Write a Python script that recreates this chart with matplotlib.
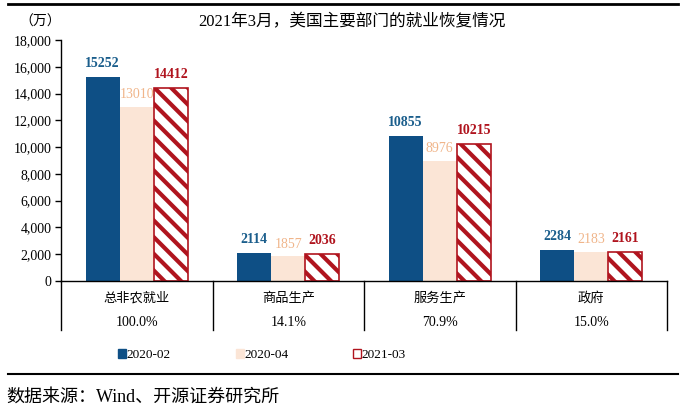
import numpy as np
import matplotlib
matplotlib.use("Agg")
import matplotlib.pyplot as plt
from matplotlib.patches import Patch

plt.rcParams['font.family'] = ['Liberation Serif', 'Noto Sans CJK SC', 'DejaVu Sans']
plt.rcParams['hatch.linewidth'] = 3.0

# data
categories = ['总非农就业', '商品生产', '服务生产', '政府']
shares     = ['100.0%', '14.1%', '70.9%', '15.0%']
series     = ['2020-02', '2020-04', '2021-03']
v_2020_02  = [15252, 2114, 10855, 2284]
v_2020_04  = [13010, 1857, 8976, 2183]
v_2021_03  = [14412, 2036, 10215, 2161]

blue = '#0E4F85'
pink = '#FBE5D6'
red = '#B0141E'

fig = plt.figure(figsize=(6.9, 4.18), dpi=100)
ax = fig.add_axes([61/690, 1-281/418, (667-61)/690, (281-40)/418])

x = np.arange(len(categories)) + 0.5
w = 0.225
ax.bar(x - w, v_2020_02, w, color=blue, linewidth=0)
ax.bar(x, v_2020_04, w, color=pink, linewidth=0)
ax.bar(x + w, v_2021_03, w, color='white', edgecolor=red, hatch='\\\\', linewidth=1.2)

# value labels
for xi, v in zip(x - w, v_2020_02):
    ax.annotate(str(v), (xi, v), xytext=(0, 5), textcoords='offset points',
                ha='center', va='bottom', fontsize=10, fontweight='bold', color='#1B5E8C')
for xi, v in zip(x, v_2020_04):
    ax.annotate(str(v), (xi, v), xytext=(0, 4), textcoords='offset points',
                ha='center', va='bottom', fontsize=10, color='#F0B58A')
for xi, v in zip(x + w, v_2021_03):
    ax.annotate(str(v), (xi, v), xytext=(0, 5), textcoords='offset points',
                ha='center', va='bottom', fontsize=10, fontweight='bold', color=red)

ax.set_xlim(0, 4)
ax.set_ylim(0, 18000)
ax.set_yticks(np.arange(0, 18001, 2000))
ax.set_yticklabels([f'{t:,}' for t in range(0, 18001, 2000)])
ax.tick_params(axis='y', labelsize=10, length=4, width=1, direction='out', pad=3)
ax.set_xticks([])
for s in ['top', 'right']:
    ax.spines[s].set_visible(False)
ax.spines['left'].set_linewidth(1)
ax.spines['bottom'].set_linewidth(1)

# table below the axis
tr = ax.get_xaxis_transform()
for b in range(5):
    ax.plot([b, b], [0, -0.205], color='black', lw=1, transform=tr, clip_on=False)
for xi, c, s in zip(x, categories, shares):
    ax.text(xi, -0.07, c, transform=tr, ha='center', va='center', fontsize=9.5)
    ax.text(xi, -0.174, s, transform=tr, ha='center', va='center', fontsize=10)

# legend
handles = [Patch(facecolor=blue, edgecolor=blue),
           Patch(facecolor=pink, edgecolor=pink),
           Patch(facecolor='white', edgecolor=red, linewidth=1)]
fig.legend(handles, series, loc='center', bbox_to_anchor=(262/690, 1-355/418),
           ncol=3, frameon=False, fontsize=9.5, handlelength=0.6, handleheight=0.6,
           handletextpad=0.05, columnspacing=4.9)

# title and unit
fig.text(352/690, 1-22/418, '2021年3月，美国主要部门的就业恢复情况', ha='center', va='center', fontsize=12)
fig.text(40/690, 1-22/418, '（万）', ha='center', va='center', fontsize=10)

# rules and source
fig.add_artist(plt.Line2D([8/690, 678/690], [1-4/418, 1-4/418], color='black', lw=2))
fig.add_artist(plt.Line2D([8/690, 678/690], [1-374/418, 1-374/418], color='black', lw=1.5))
fig.text(6/690, 1-397/418, '数据来源：Wind、开源证券研究所', ha='left', va='center', fontsize=13)

fig.savefig('out.png', dpi=100)
